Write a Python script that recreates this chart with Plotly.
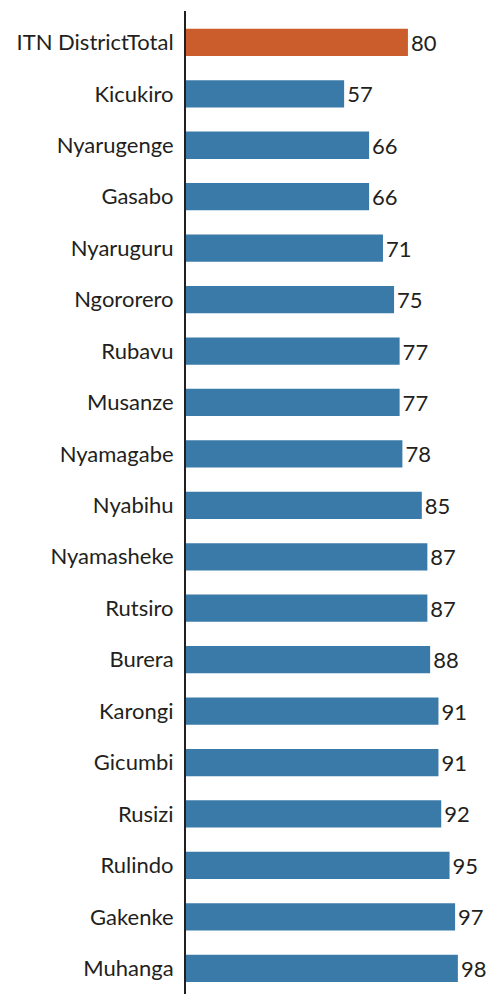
import plotly.graph_objects as go

districts = ["ITN DistrictTotal", "Kicukiro", "Nyarugenge", "Gasabo", "Nyaruguru", "Ngororero",
             "Rubavu", "Musanze", "Nyamagabe", "Nyabihu", "Nyamasheke", "Rutsiro", "Burera",
             "Karongi", "Gicumbi", "Rusizi", "Rulindo", "Gakenke", "Muhanga"]
values = [80, 57, 66, 66, 71, 75, 77, 77, 78, 85, 87, 87, 88, 91, 91, 92, 95, 97, 98]
colors = ["#CB5C2B"] + ["#3A7AA9"] * (len(districts) - 1)

fig = go.Figure(go.Bar(
    x=values, y=districts, orientation="h",
    marker=dict(color=colors, line=dict(width=0)),
    width=0.53,
    text=[str(v) for v in values], textposition="outside",
    textfont=dict(size=22, color="#231F20", family="Lato"),
    cliponaxis=False,
))

fig.update_layout(
    width=492, height=994,
    margin=dict(l=186, r=0, t=11, b=0),
    paper_bgcolor="white", plot_bgcolor="white",
    showlegend=False,
    font=dict(family="Lato", color="#231F20"),
    xaxis=dict(range=[0, 110.3], visible=False, fixedrange=True),
    yaxis=dict(
        autorange=False, range=[18.5, -0.61],
        showline=True, linecolor="#231F20", linewidth=2,
        ticks="", ticklabelstandoff=6,
        tickfont=dict(size=22, color="#231F20", family="Lato"),
        showgrid=False, zeroline=False,
    ),
)

fig.write_html(
    "out.html",
    config={"displayModeBar": False},
    post_script="document.body.style.margin='0';document.body.style.overflow='hidden';",
)
